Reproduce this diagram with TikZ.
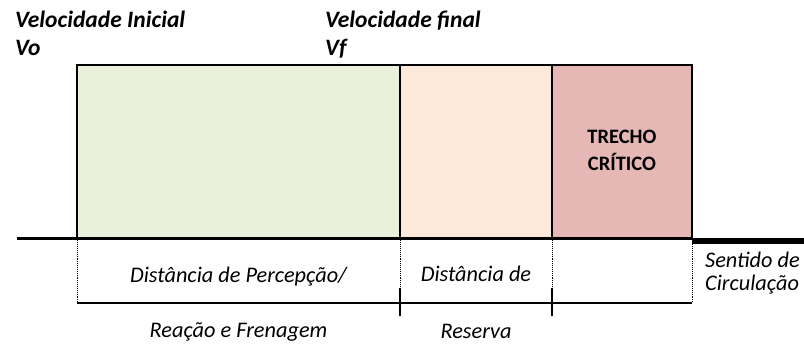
\documentclass[tikz,border=0pt]{standalone}
\usepackage{fontspec}
\setmainfont{Carlito}
\usetikzlibrary{positioning}

\definecolor{percgreen}{RGB}{233,240,220}
\definecolor{respeach}{RGB}{253,233,217}
\definecolor{critred}{RGB}{229,183,181}

\tikzset{
  zone/.style={draw=black, line width=1.2pt},
  speed/.style={font=\fontsize{23.5}{27}\selectfont\bfseries\itshape, anchor=base west, inner sep=0pt},
  dist/.style={font=\fontsize{22.3}{25}\selectfont\itshape, anchor=base, inner sep=0pt},
  crit/.style={font=\fontsize{20.5}{27}\selectfont\bfseries, anchor=base, inner sep=0pt},
  guide/.style={densely dotted, line width=0.9pt},
}

\begin{document}
\begin{tikzpicture}[x=1pt,y=-1pt]
\useasboundingbox (0,0) rectangle (804,345);

% Borders of the zones, on the road and at the top
\foreach \n/\x in {0/77,1/400,2/552,3/692}{
  \coordinate (t\n) at (\x,65);
  \coordinate (p\n) at (\x,238.5);
  \coordinate (b\n) at (\x,303);
}
\coordinate (roadstart) at (17,238.5);
\coordinate (wayend) at (804,241);

% Zones
\filldraw [zone, fill=percgreen] (t0) rectangle (p1);
\filldraw [zone, fill=respeach] (t1) rectangle (p2);
\filldraw [zone, fill=critred] (t2) rectangle (p3);

% Road, thicker after the critical stretch
\draw [line width=3pt] (roadstart) -- (p3);
\draw [line width=6.5pt] (p3 |- wayend) -- (wayend);

% Guides under the road
\foreach \n in {0,...,3}
  \draw [guide] (p\n) -- (b\n);
\draw [line width=1.4pt] (b0) -- (b3);
\foreach \n in {1,2}
  \draw [line width=1.4pt] ([yshift=-13pt]b\n) -- ([yshift=15pt]b\n);

% Speeds
\node [speed] (vi) at (15,28) {Velocidade Inicial};
\node [speed] (vo) at (15,56) {Vo};
\node [speed] (vfin) at (325,28) {Velocidade final};
\node [speed] (vf) at (325,56) {Vf};

% Distances
\node [dist] (perc) at (238.5,282) {Distância de Percepção/};
\node [dist] (frena) at (238.5,337) {Reação e Frenagem};
\node [dist] (dres) at (476,281) {Distância de};
\node [dist] (res) at (476,338) {Reserva};
\node [dist, anchor=base west] (sent) at (705,267) {Sentido de};
\node [dist, anchor=base west] (circ) at (705,290) {Circulação};

% Critical stretch
\node [crit] (trecho) at (622,143) {TRECHO};
\node [crit] (critico) at (622,170) {CRÍTICO};

\end{tikzpicture}
\end{document}
